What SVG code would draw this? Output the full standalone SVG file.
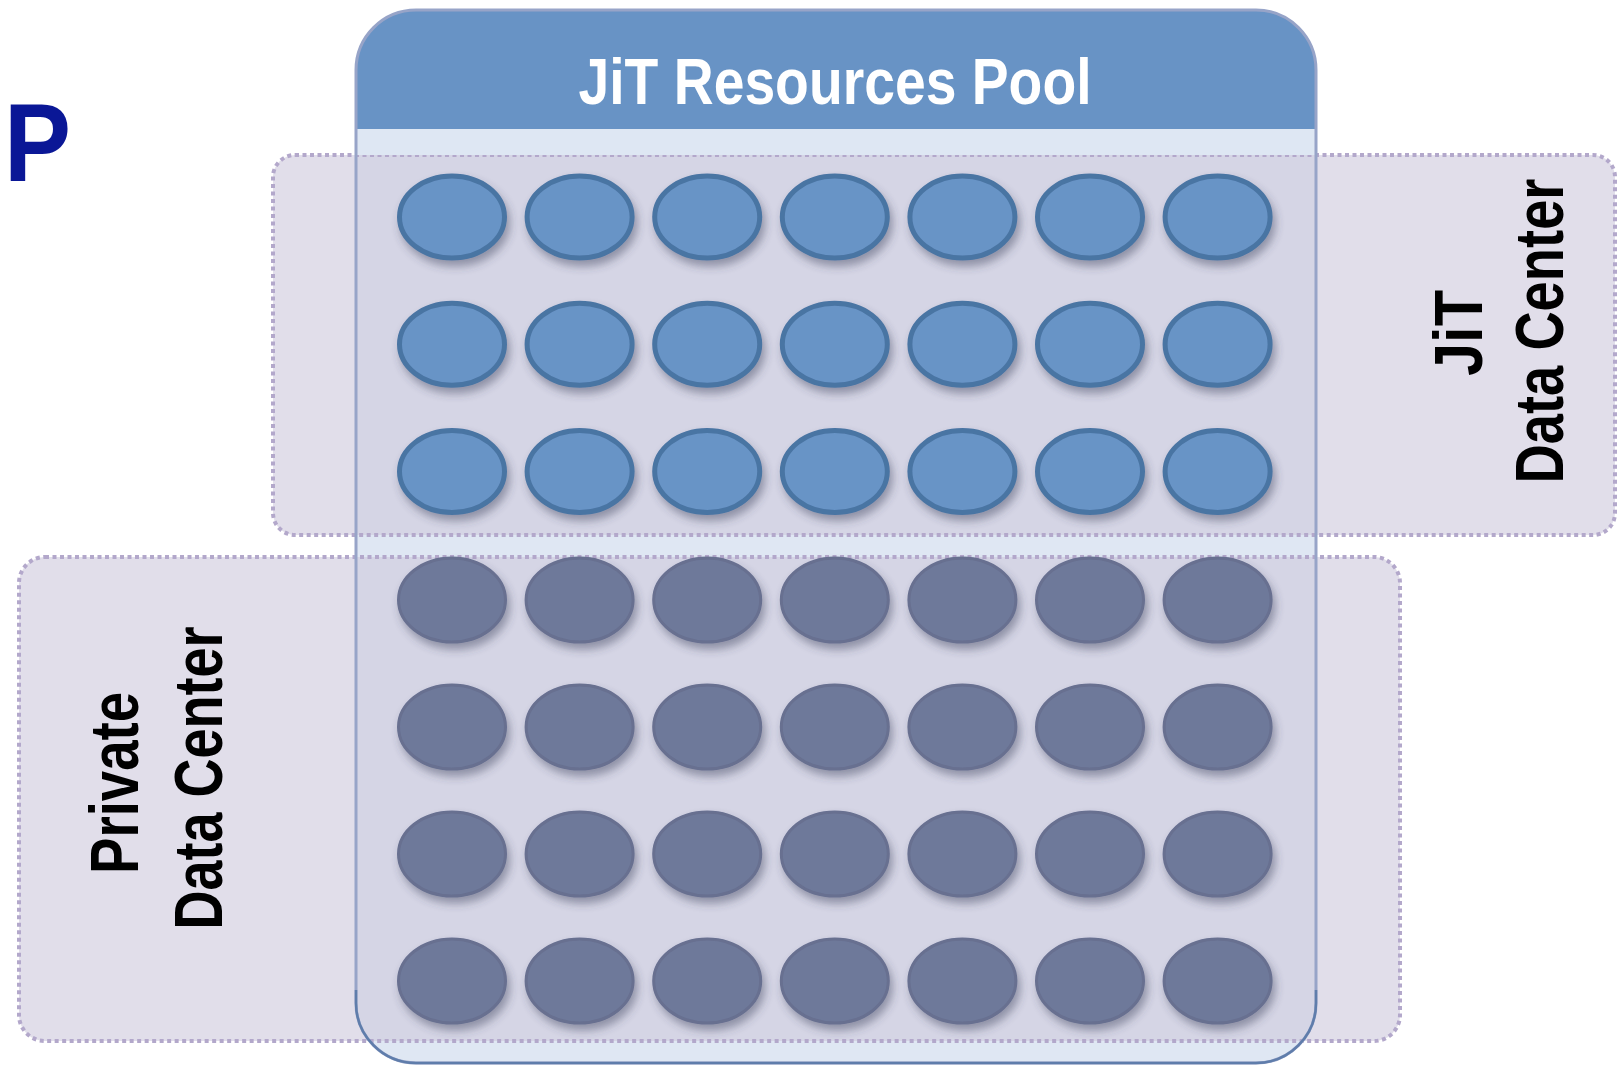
<svg xmlns="http://www.w3.org/2000/svg" width="1618" height="1069" viewBox="0 0 1618 1069">
  <defs>
    <style>
      .region { fill: #cec9dd; fill-opacity: 0.61; stroke: #b3a8cb; stroke-width: 4; stroke-dasharray: 4 3.5; }
      .jit { fill: #6894c6; stroke: #4a74a3; stroke-width: 5; }
      .priv { fill: #6e799a; stroke: #676f90; stroke-width: 3; }
      .label { font-family: "Liberation Sans", Arial, sans-serif; font-weight: bold; fill: #000; font-size: 68px; }
      .title { font-family: "Liberation Sans", Arial, sans-serif; font-weight: bold; fill: #ffffff; font-size: 64px; }
    </style>
    <filter id="shadow" x="-30%" y="-30%" width="170%" height="180%">
      <feDropShadow dx="3" dy="6" stdDeviation="4" flood-color="#3a3f5a" flood-opacity="0.45"/>
    </filter>
    <filter id="soft" x="-5%" y="-5%" width="110%" height="110%">
      <feGaussianBlur stdDeviation="0.6"/>
    </filter>
    <g id="row-jit">
      <ellipse class="jit" cx="452" cy="0" rx="52.5" ry="41"/>
      <ellipse class="jit" cx="579.6" cy="0" rx="52.5" ry="41"/>
      <ellipse class="jit" cx="707.2" cy="0" rx="52.5" ry="41"/>
      <ellipse class="jit" cx="834.8" cy="0" rx="52.5" ry="41"/>
      <ellipse class="jit" cx="962.4" cy="0" rx="52.5" ry="41"/>
      <ellipse class="jit" cx="1090" cy="0" rx="52.5" ry="41"/>
      <ellipse class="jit" cx="1217.6" cy="0" rx="52.5" ry="41"/>
    </g>
    <g id="row-priv">
      <ellipse class="priv" cx="452" cy="0" rx="53.5" ry="42"/>
      <ellipse class="priv" cx="579.6" cy="0" rx="53.5" ry="42"/>
      <ellipse class="priv" cx="707.2" cy="0" rx="53.5" ry="42"/>
      <ellipse class="priv" cx="834.8" cy="0" rx="53.5" ry="42"/>
      <ellipse class="priv" cx="962.4" cy="0" rx="53.5" ry="42"/>
      <ellipse class="priv" cx="1090" cy="0" rx="53.5" ry="42"/>
      <ellipse class="priv" cx="1217.6" cy="0" rx="53.5" ry="42"/>
    </g>
  </defs>

  <rect width="1618" height="1069" fill="#ffffff"/>

  <!-- partial slide heading -->
  <text x="4" y="181" font-family="Liberation Sans, Arial, sans-serif" font-weight="bold" font-size="112" fill="#0a1796" textLength="67" lengthAdjust="spacingAndGlyphs">P</text>

  <!-- pool body (pale background under the overlapping data centers) -->
  <path id="pool-body" d="M356,129 H1316 V1003 A60,60 0 0 1 1256,1063 H416 A60,60 0 0 1 356,1003 Z" fill="#dfe7f3"/>

  <!-- data center regions -->
  <g id="jit-dc">
    <rect class="region" x="273" y="155" width="1342" height="380" rx="22"/>
    <text class="label" transform="translate(1482,333) rotate(-90)" text-anchor="middle" textLength="86" lengthAdjust="spacingAndGlyphs">JiT</text>
    <text class="label" transform="translate(1563,331) rotate(-90)" text-anchor="middle" textLength="305" lengthAdjust="spacingAndGlyphs">Data Center</text>
  </g>
  <g id="private-dc">
    <rect class="region" x="19" y="557" width="1381" height="484" rx="26"/>
    <text class="label" transform="translate(138,783) rotate(-90)" text-anchor="middle" textLength="182" lengthAdjust="spacingAndGlyphs">Private</text>
    <text class="label" transform="translate(222,778) rotate(-90)" text-anchor="middle" textLength="303" lengthAdjust="spacingAndGlyphs">Data Center</text>
  </g>

  <!-- resources pool frame and header -->
  <g id="pool">
    <path d="M356,129 V70 A60,60 0 0 1 416,10 H1256 A60,60 0 0 1 1316,70 V129 Z" fill="#6893c5"/>
    <rect x="357" y="129" width="958" height="26" fill="#dee7f3"/>
    <path d="M356,129 V70 A60,60 0 0 1 416,10 H1256 A60,60 0 0 1 1316,70 V1003 A60,60 0 0 1 1256,1063 H416 A60,60 0 0 1 356,1003 Z" fill="none" stroke="#97a4c8" stroke-width="3"/>
    <path d="M1316,990 V1003 A60,60 0 0 1 1256,1063 H416 A60,60 0 0 1 356,1003 V990" fill="none" stroke="#5f7dab" stroke-width="2.5"/>
    <text class="title" x="835" y="104" text-anchor="middle" textLength="513" lengthAdjust="spacingAndGlyphs" filter="url(#soft)">JiT Resources Pool</text>
  </g>

  <!-- JiT resources -->
  <g id="jit-resources" filter="url(#shadow)">
    <use href="#row-jit" y="217"/>
    <use href="#row-jit" y="344.3"/>
    <use href="#row-jit" y="471.6"/>
  </g>

  <!-- private resources -->
  <g id="private-resources" filter="url(#shadow)">
    <use href="#row-priv" y="600"/>
    <use href="#row-priv" y="727"/>
    <use href="#row-priv" y="854"/>
    <use href="#row-priv" y="981"/>
  </g>

  <!-- connectors: none in this diagram -->
  <g id="connectors"/>
</svg>
